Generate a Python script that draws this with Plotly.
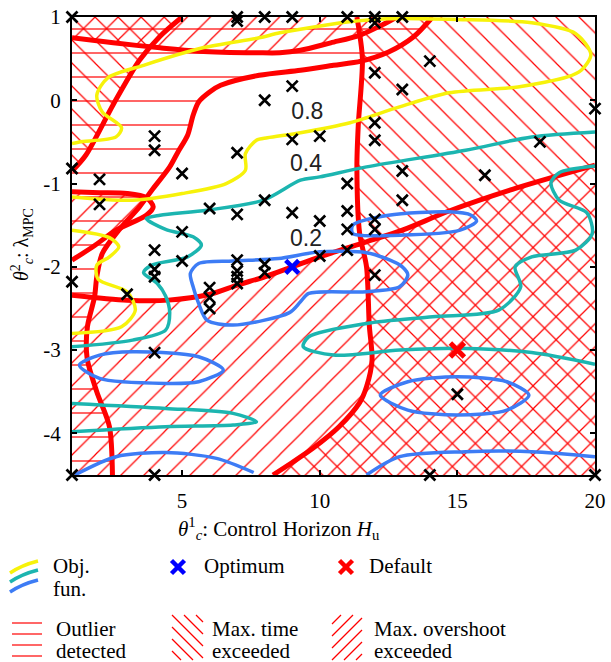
import plotly.graph_objects as go

# ---------------- axes ----------------
x_range = [1, 20]
y_range = [-4.5, 1]
x_tick_vals = [5, 10, 15, 20]
x_tick_text = ["5", "10", "15", "20"]
y_tick_vals = [1, 0, -1, -2, -3, -4]
y_tick_text = ["1", "0", "-1", "-2", "-3", "-4"]

# ---------------- evaluated samples ----------------
sample_x = [1, 7, 7, 8, 9, 11, 12, 12, 13,
            12, 14, 13, 20, 12, 12, 18, 13, 16, 11, 13, 11, 10, 11, 12, 12, 10, 11, 12,
            9, 8, 9, 10, 7, 4, 4, 5, 1, 2, 2, 6, 7, 8, 9, 5, 4, 5, 4, 4,
            7, 7, 7, 7, 8, 8, 6, 6, 6, 3, 1, 4, 1, 4, 14, 20, 15]
sample_y = [1, 1, 0.95, 1, 1, 1, 1, 0.93, 1,
            0.33, 0.47, 0.13, -0.1, -0.27, -0.48, -0.5, -0.85, -0.9, -1.0, -1.2, -1.33, -1.45, -1.55, -1.43, -1.55, -1.87, -1.8, -2.1,
            0.17, 0.0, -0.47, -0.43, -0.63, -0.43, -0.6, -0.88, -0.82, -0.95, -1.25, -1.3, -1.37, -1.2, -1.35, -1.58, -1.8, -1.93, -2.03, -2.12,
            -1.92, -2.05, -2.12, -2.2, -1.97, -2.07, -2.25, -2.37, -2.5, -2.33, -2.18, -3.03, -4.5, -4.5, -4.5, -4.5, -3.53]
optimum_x = [9]
optimum_y = [-2]
default_x = [15]
default_y = [-3]

# ---------------- region boundaries ----------------
# outlier detected (region to the upper left)
outlier_x = [2.47, 2.36, 1.9, 1.55, 1.56, 1.82, 1.9, 2.1, 2.7, 3.45, 3.9, 4.55, 4.85, 5.2, 5.4, 5.6, 6.0, 6.4, 7.8, 9.3, 10.5, 11.5, 12.5, 13.4, 14.1]
outlier_y = [-4.5, -3.92, -3.5, -3.1, -2.72, -2.36, -2.12, -1.84, -1.56, -1.28, -1.08, -0.8, -0.62, -0.42, -0.18, -0.02, 0.1, 0.18, 0.3, 0.36, 0.42, 0.47, 0.58, 0.76, 1.0]
# max. time exceeded (upper-left corner and right part)
time_left_x = [1, 1.5, 2.5, 3.45, 4.2, 5.0]
time_left_y = [-0.85, -0.66, -0.05, 0.48, 0.77, 1.0]
time_right_x = [11.35, 11.55, 11.4, 11.35, 11.45, 11.7, 11.8, 11.9, 11.7, 11.45, 10.7, 9.75, 9.0, 8.3]
time_right_y = [1.0, 0.5, -0.3, -0.8, -1.6, -2.0, -2.7, -3.12, -3.44, -3.63, -3.92, -4.18, -4.35, -4.5]
# max. overshoot exceeded (lower part, top strip, small lens)
over_low_x = [1, 3, 4.5, 6, 7, 8, 9, 10, 11.7, 13, 14.7, 17, 20]
over_low_y = [-2.34, -2.4, -2.4, -2.33, -2.22, -2.12, -2.0, -1.88, -1.7, -1.56, -1.33, -1.07, -0.78]
over_top_x = [1, 2.5, 4.2, 5.6, 7.8, 8.55, 9.3, 10.4, 11.45, 12.3, 12.8]
over_top_y = [0.75, 0.69, 0.63, 0.59, 0.57, 0.57, 0.6, 0.69, 0.78, 0.91, 1.0]
lens_x = [1, 2.0, 3.0, 3.7, 3.95, 3.7, 2.6, 1.8, 1]
lens_y = [-1.1, -1.11, -1.12, -1.17, -1.28, -1.38, -1.56, -1.75, -1.92]

# ---------------- objective function contours ----------------
obj_08_x = [1, 1.27, 2.6, 2.8, 2.1, 1.9, 2.3, 3.6, 5.75, 7.8, 8.55, 11, 12.5, 15, 17.7, 19.3, 19.85, 19.5, 19, 17.2, 14.7, 12.9, 11.1, 9.3, 8.1, 7.7, 7.3, 7.3, 6.6, 5.0, 3.2, 1]
obj_08_y = [-0.52, -0.5, -0.44, -0.33, -0.14, 0.06, 0.27, 0.42, 0.63, 0.75, 0.81, 0.94, 0.98, 0.97, 0.93, 0.8, 0.55, 0.36, 0.28, 0.16, 0.09, -0.08, -0.27, -0.39, -0.45, -0.48, -0.64, -0.84, -1.0, -1.12, -1.2, -1.16]
obj_08b_x = [1, 2.36, 2.7, 2.36, 1.9, 1.95, 3.0, 3.3, 2.8, 1]
obj_08b_y = [-1.56, -1.65, -1.76, -1.88, -1.98, -2.15, -2.3, -2.52, -2.72, -2.8]

obj_04_x = [20, 17.7, 15.3, 11.7, 10, 9.3, 7.95, 5.9, 4.2, 3.7, 4.4, 5.4, 5.7, 5.2, 3.9, 3.6, 4.1, 4.4, 4.55, 4.4, 3.2, 1]
obj_04_y = [-0.38, -0.44, -0.6, -0.8, -0.92, -0.96, -1.2, -1.32, -1.38, -1.42, -1.55, -1.64, -1.74, -1.88, -1.98, -2.07, -2.2, -2.35, -2.55, -2.76, -2.88, -2.96]
obj_04b_x = [20, 18.7, 18.4, 18.7, 19.7, 19.9, 19.3, 17.7, 17.1, 17.3, 16.5, 14.1, 11.7, 9.6, 9.4, 10.5, 12.9, 15.3, 17.7, 20]
obj_04b_y = [-0.79, -0.87, -0.99, -1.2, -1.35, -1.6, -1.8, -1.88, -2.0, -2.24, -2.52, -2.6, -2.68, -2.84, -2.96, -3.06, -3.0, -2.98, -3.03, -3.17]
obj_04c_x = [1, 4.4, 6.85, 7.7, 6.85, 4.4, 1]
obj_04c_y = [-3.64, -3.7, -3.76, -3.86, -3.9, -3.92, -3.98]

obj_02_x = [5.3, 5.6, 6.85, 8.5, 10, 11.7, 12.4, 13.0, 13.2, 12.9, 11.7, 9.6, 9.3, 8.9, 6.85, 5.9, 5.6, 5.4, 5.3]
obj_02_y = [-2.08, -1.96, -1.93, -1.9, -1.82, -1.83, -1.9, -2.0, -2.1, -2.24, -2.3, -2.32, -2.42, -2.55, -2.7, -2.64, -2.44, -2.24, -2.08]
obj_02b_x = [11.2, 12.5, 14.7, 15.5, 15.7, 15.1, 12.9, 11.2, 11.2]
obj_02b_y = [-1.5, -1.38, -1.34, -1.38, -1.45, -1.56, -1.62, -1.6, -1.5]
obj_02c_x = [1.27, 2.0, 3.2, 5.6, 6.5, 5.6, 4.4, 2.0, 1.27]
obj_02c_y = [-3.18, -3.06, -3.02, -3.08, -3.24, -3.38, -3.4, -3.34, -3.18]
obj_02d_x = [12.2, 13.2, 15, 16.8, 17.6, 16.8, 15, 13.2, 12.2]
obj_02d_y = [-3.54, -3.38, -3.32, -3.38, -3.54, -3.72, -3.78, -3.72, -3.54]
obj_02e_x = [11.7, 12.9, 15.3, 17.7, 20]
obj_02e_y = [-4.5, -4.28, -4.22, -4.22, -4.28]
obj_02f_x = [1.1, 2.6, 4.4, 6.25, 7.6]
obj_02f_y = [-4.5, -4.28, -4.23, -4.3, -4.47]

level_text = ["0.8", "0.4", "0.2"]
level_x = [9.55, 9.5, 9.5]
level_y = [-0.16, -0.78, -1.68]

# ---------------- styles ----------------
W, H = 611, 662
L, R, T, B = 72, 16, 17, 187
SERIF = "Liberation Serif, DejaVu Serif, serif"
RED = "#ff0000"
YELLOW = "#f7f20a"
TEAL = "#1cb5b0"
BLUE = "#3d7cf5"
x0, x1 = x_range
y0, y1 = y_range

def pat(shape, size, solidity):
    return dict(shape=shape, size=size, solidity=solidity, fgcolor=RED,
                bgcolor="rgba(0,0,0,0)", fillmode="replace")

HATCH_H = pat("-", 24, 0.05)
HATCH_B = pat("\\", 16.3, 0.075)
HATCH_F = pat("/", 16.3, 0.075)

fig = go.Figure()

def region(xs, ys, pattern):
    fig.add_trace(go.Scatter(x=xs, y=ys, mode="none", fill="toself",
                             fillpattern=pattern, hoverinfo="skip", showlegend=False))

region(outlier_x + [x0, x0], outlier_y + [y1, y0], HATCH_H)
region(time_left_x + [x0], time_left_y + [y1], HATCH_B)
region(time_right_x + [x1, x1], time_right_y + [y0, y1], HATCH_B)
region(over_low_x + [x1, x0], over_low_y + [y0, y0], HATCH_F)
region(over_top_x + [x0], over_top_y + [y1], HATCH_F)
region(lens_x, lens_y, HATCH_F)

def curve(xs, ys, color, width):
    fig.add_trace(go.Scatter(x=xs, y=ys, mode="lines",
                             line=dict(color=color, width=width, shape="spline", smoothing=0.8),
                             hoverinfo="skip", showlegend=False))

for xs, ys in [(outlier_x, outlier_y), (time_left_x, time_left_y), (time_right_x, time_right_y),
               (over_low_x, over_low_y), (over_top_x, over_top_y), (lens_x, lens_y)]:
    curve(xs, ys, RED, 5)

for xs, ys in [(obj_08_x, obj_08_y), (obj_08b_x, obj_08b_y)]:
    curve(xs, ys, YELLOW, 3.5)
for xs, ys in [(obj_04_x, obj_04_y), (obj_04b_x, obj_04b_y), (obj_04c_x, obj_04c_y)]:
    curve(xs, ys, TEAL, 3.5)
for xs, ys in [(obj_02_x, obj_02_y), (obj_02b_x, obj_02b_y), (obj_02c_x, obj_02c_y),
               (obj_02d_x, obj_02d_y), (obj_02e_x, obj_02e_y), (obj_02f_x, obj_02f_y)]:
    curve(xs, ys, BLUE, 3.5)

fig.add_trace(go.Scatter(x=level_x, y=level_y, text=level_text, mode="text",
                         textfont=dict(family="Liberation Sans, Arial, sans-serif", size=23, color="#222"),
                         hoverinfo="skip", showlegend=False))

fig.add_trace(go.Scatter(x=sample_x, y=sample_y, mode="markers", cliponaxis=False,
                         marker=dict(symbol="x-thin", size=11, line=dict(width=2.7, color="black")),
                         hoverinfo="skip", showlegend=False))
fig.add_trace(go.Scatter(x=optimum_x, y=optimum_y, mode="markers", cliponaxis=False,
                         marker=dict(symbol="x-thin", size=13, line=dict(width=4.5, color="#0000ff")),
                         hoverinfo="skip", showlegend=False))
fig.add_trace(go.Scatter(x=default_x, y=default_y, mode="markers", cliponaxis=False,
                         marker=dict(symbol="x-thin", size=14, line=dict(width=5, color=RED)),
                         hoverinfo="skip", showlegend=False))

# ---------------- custom legend (pixel layout -> paper coords) ----------------
PW, PH = W - L - R, H - T - B
def px(v): return (v - L) / PW
def py(v): return (H - B - v) / PH

shapes = []
def seg(xa, ya, xb, yb, color, width):
    shapes.append(dict(type="line", xref="paper", yref="paper", x0=px(xa), y0=py(ya),
                       x1=px(xb), y1=py(yb), line=dict(color=color, width=width)))

# Obj. fun. strokes
for dy, col in [(0, YELLOW), (9, TEAL), (19, BLUE)]:
    path = "M{},{} Q{},{} {},{}".format(px(10), py(573 + dy), px(22), py(565 + dy), px(38), py(561 + dy))
    shapes.append(dict(type="path", xref="paper", yref="paper", path=path,
                       line=dict(color=col, width=3.5)))
# optimum / default crosses
for cx, col in [(178, "#0000ff"), (346, RED)]:
    seg(cx - 6.5, 560.5, cx + 6.5, 573.5, col, 4.5)
    seg(cx - 6.5, 573.5, cx + 6.5, 560.5, col, 4.5)
# outlier icon
for yy in [623, 634, 645, 656]:
    seg(12, yy, 42, yy, "rgb(255,0,0)", 1.2)
# diagonal icons
def diag_icon(bx0, bx1, by0, by1, sign):
    step = 12
    for k in range(-6, 8):
        c = k * step
        xa = max(bx0, bx0 - c)
        xb = min(bx1, bx0 + (by1 - by0) - c)
        if xb - xa < 3:
            continue
        if sign > 0:   # "\"
            seg(xa, by0 + (xa - bx0) + c, xb, by0 + (xb - bx0) + c, "rgb(255,0,0)", 1.2)
        else:          # "/"
            seg(xa, by1 - (xa - bx0) - c, xb, by1 - (xb - bx0) - c, "rgb(255,0,0)", 1.2)
diag_icon(172, 203, 615, 660, 1)
diag_icon(332, 362, 615, 660, -1)

annotations = []
def label(text, xl, yc, size=21):
    annotations.append(dict(text=text, xref="paper", yref="paper", x=px(xl), y=py(yc),
                            xanchor="left", yanchor="middle", showarrow=False,
                            font=dict(family=SERIF, size=size, color="black")))
label("Obj.", 51, 566)
label("fun.", 51, 589)
label("Optimum", 202, 566)
label("Default", 367, 566)
label("Outlier", 54, 629)
label("detected", 54, 651)
label("Max. time", 210, 629)
label("exceeded", 210, 651)
label("Max. overshoot", 372, 629)
label("exceeded", 372, 651)

# axis titles
annotations.append(dict(text="<i>θ</i><sup>1</sup><sub><i>c</i></sub>: Control Horizon <i>H</i><sub>u</sub>",
                        xref="paper", yref="paper", x=px(279), y=py(528), xanchor="center", yanchor="middle",
                        showarrow=False, font=dict(family=SERIF, size=21, color="black")))
annotations.append(dict(text="<i>θ</i><sup>2</sup><sub><i>c</i></sub>: λ<sub>MPC</sub>",
                        xref="paper", yref="paper", x=px(22), y=py(245), xanchor="center", yanchor="middle",
                        textangle=-90, showarrow=False, font=dict(family=SERIF, size=20, color="black")))

axis_common = dict(showgrid=False, zeroline=False, showline=True, linecolor="black", linewidth=2,
                   mirror="ticks", ticks="inside", ticklen=5, tickwidth=1.5, tickcolor="black",
                   automargin=False)

fig.update_layout(
    width=W, height=H, autosize=False,
    margin=dict(l=L, r=R, t=T, b=B, autoexpand=False),
    paper_bgcolor="white", plot_bgcolor="white",
    showlegend=False,
    xaxis=dict(range=x_range, tickvals=x_tick_vals, ticktext=x_tick_text, ticklabelstandoff=6,
               tickfont=dict(family=SERIF, size=21, color="black"), **axis_common),
    yaxis=dict(range=y_range, tickvals=y_tick_vals, ticktext=y_tick_text, ticklabelstandoff=5,
               tickfont=dict(family=SERIF, size=21, color="black"), **axis_common),
    shapes=shapes,
    annotations=annotations,
)

fig.write_html("out.html", config={"displayModeBar": False},
               post_script="document.body.style.margin='0px';")
